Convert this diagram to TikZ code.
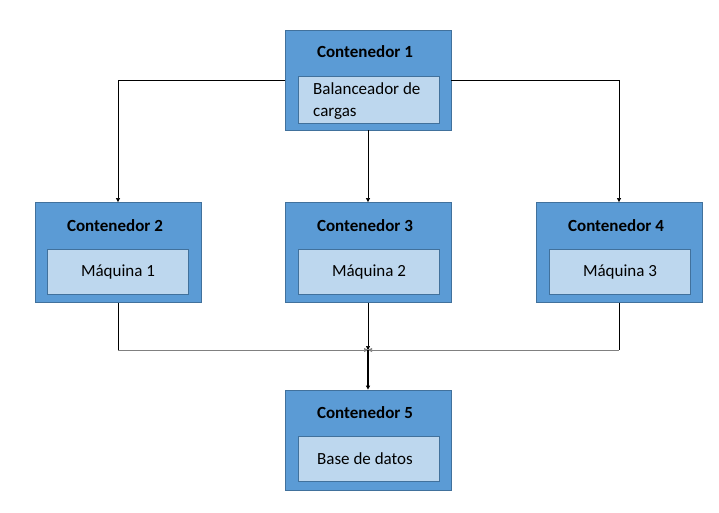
\documentclass[tikz,border=0pt]{standalone}
\usepackage{fontspec}
\setmainfont{Carlito}
\usetikzlibrary{arrows.meta}
\definecolor{outerfill}{HTML}{5B9BD5}
\definecolor{outerdraw}{HTML}{41719C}
\definecolor{innerfill}{HTML}{BDD7EE}
\definecolor{linegray}{HTML}{808080}
\tikzset{
  outerbox/.style={draw=outerdraw, fill=outerfill, line width=0.8pt, minimum width=166pt, minimum height=100pt, inner sep=0pt},
  innerbox/.style={draw=outerdraw, fill=innerfill, line width=0.6pt, minimum width=141pt, minimum height=45pt, inner sep=0pt, font=\fontsize{17}{21}\selectfont},
  bodytext/.style={font=\fontsize{17}{22}\selectfont, text=black, inner sep=0pt},
  titletext/.style={font=\fontsize{17}{21}\selectfont\bfseries, text=black},
  conn/.style={draw=black, line width=0.6pt, -{Triangle[length=4pt,width=4pt]}},
}
\begin{document}
\begin{tikzpicture}[x=1pt,y=-1pt]
\useasboundingbox (0,0) rectangle (719,512);
% boxes
\node[outerbox] (c1) at (368,80) {};
\node[titletext] (t1) at (365,52) {Contenedor 1};
\node[innerbox, minimum height=47pt] (i1) at (368.5,100) {};
\node[bodytext, align=left, anchor=north west] (l1) at (313,82) {Balanceador de\\cargas};

\node[outerbox] (c2) at (118,252.5) {};
\node[titletext] (t2) at (115,226) {Contenedor 2};
\node[innerbox] (i2) at (118,272) {Máquina 1};

\node[outerbox] (c3) at (368,252.5) {};
\node[titletext] (t3) at (365,226) {Contenedor 3};
\node[innerbox] (i3) at (369,272) {Máquina 2};

\node[outerbox] (c4) at (619,252.5) {};
\node[titletext] (t4) at (616,226) {Contenedor 4};
\node[innerbox] (i4) at (620,272) {Máquina 3};

\node[outerbox] (c5) at (368,440) {};
\node[titletext] (t5) at (365,413) {Contenedor 5};
\node[innerbox] (i5) at (369,459) {};
\node[bodytext] (l5) at (365,459) {Base de datos};

% connectors
\coordinate (j) at (368,350);
\draw[conn] (c1.west) -| (c2.north);
\draw[conn] (c1.east) -| (c4.north);
\draw[conn] (c1.south) -- (c3.north);
\draw[line width=0.6pt] (c2.south) -- (c2.south |- j);
\draw[line width=0.6pt] (c4.south) -- (c4.south |- j);
\draw[conn, draw=linegray] (c2.south |- j) -- (j);
\draw[conn, draw=linegray] (c4.south |- j) -- (j);
\draw[conn] (c3.south) -- (j);
\draw[conn, line width=1.4pt] (j) -- (c5.north);
\end{tikzpicture}
\end{document}
